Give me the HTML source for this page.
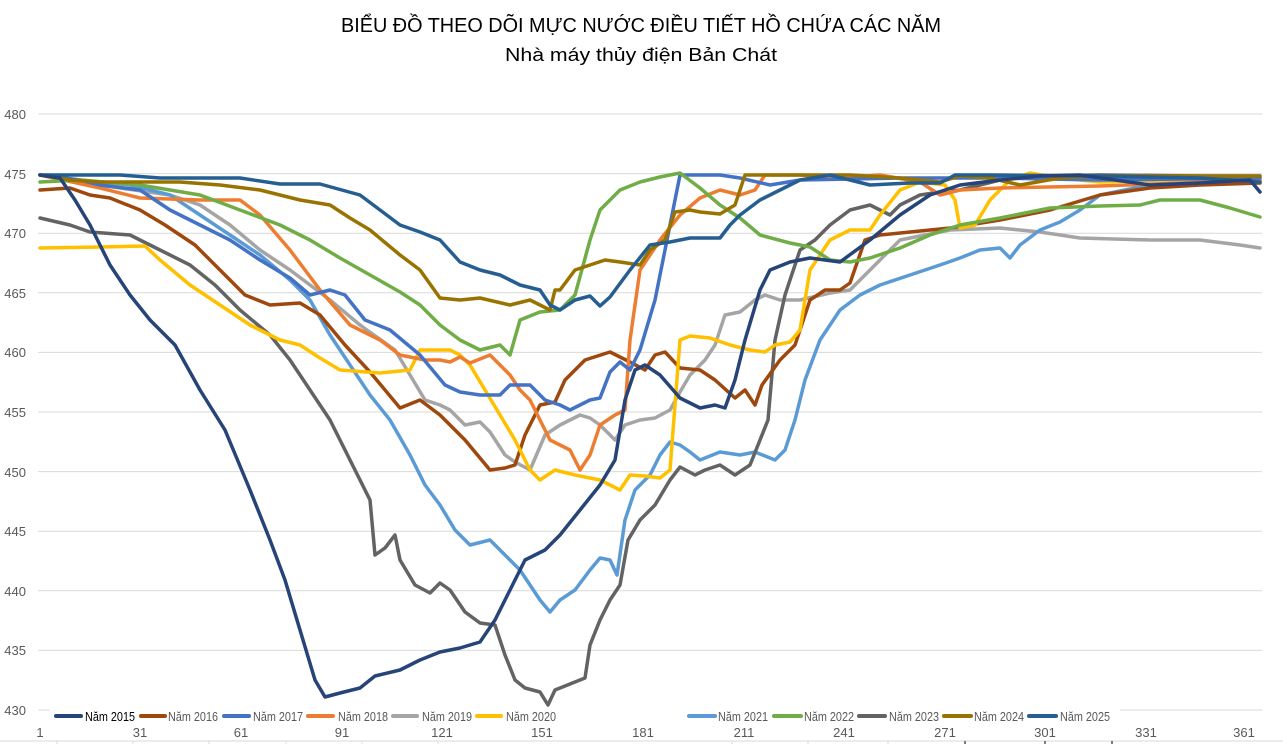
<!DOCTYPE html>
<html><head><meta charset="utf-8"><style>
body{margin:0;background:#fff;}
svg{display:block;font-family:"Liberation Sans",sans-serif;}
.s{fill:none;stroke-width:3.5;stroke-linejoin:round;stroke-linecap:round;}
</style></head><body>
<svg width="1283" height="744" viewBox="0 0 1283 744">
<text x="641" y="32" text-anchor="middle" font-size="20" fill="#000" textLength="600" lengthAdjust="spacingAndGlyphs">BIỂU ĐỒ THEO DÕI MỰC NƯỚC ĐIỀU TIẾT HỒ CHỨA CÁC NĂM</text>
<text x="641" y="61" text-anchor="middle" font-size="18" fill="#000" textLength="272" lengthAdjust="spacingAndGlyphs">Nhà máy thủy điện Bản Chát</text>
<g stroke="#d9d9d9" stroke-width="1">
<line x1="38" x2="1262" y1="114" y2="114"/><line x1="38" x2="1262" y1="173.6" y2="173.6"/><line x1="38" x2="1262" y1="233.2" y2="233.2"/><line x1="38" x2="1262" y1="292.8" y2="292.8"/><line x1="38" x2="1262" y1="352.4" y2="352.4"/><line x1="38" x2="1262" y1="412" y2="412"/><line x1="38" x2="1262" y1="471.6" y2="471.6"/><line x1="38" x2="1262" y1="531.2" y2="531.2"/><line x1="38" x2="1262" y1="590.8" y2="590.8"/><line x1="38" x2="1262" y1="650.4" y2="650.4"/><line x1="38" x2="1262" y1="710" y2="710"/>
<line x1="0" x2="1283" y1="741" y2="741"/>
<line x1="57" x2="57" y1="741" y2="744"/><line x1="133" x2="133" y1="741" y2="744"/><line x1="209" x2="209" y1="741" y2="744"/><line x1="286" x2="286" y1="741" y2="744"/><line x1="362" x2="362" y1="741" y2="744"/><line x1="438" x2="438" y1="741" y2="744"/><line x1="732" x2="732" y1="741" y2="744"/><line x1="808" x2="808" y1="741" y2="744"/><line x1="888" x2="888" y1="741" y2="744"/>
</g>
<g stroke="#000" stroke-width="1"><line x1="965" x2="965" y1="741" y2="744"/><line x1="1045" x2="1045" y1="741" y2="744"/><line x1="1112" x2="1112" y1="741" y2="744"/></g>
<g font-size="13" fill="#595959" text-anchor="end">
<text x="26" y="119">480</text><text x="26" y="179">475</text><text x="26" y="238">470</text><text x="26" y="298">465</text><text x="26" y="357">460</text><text x="26" y="417">455</text><text x="26" y="477">450</text><text x="26" y="536">445</text><text x="26" y="596">440</text><text x="26" y="655">435</text><text x="26" y="715">430</text>
</g>
<g font-size="13" fill="#595959" text-anchor="middle">
<text x="40" y="737">1</text><text x="140" y="737">31</text><text x="241" y="737">61</text><text x="342" y="737">91</text><text x="442" y="737">121</text><text x="542" y="737">151</text><text x="643" y="737">181</text><text x="744" y="737">211</text><text x="844" y="737">241</text><text x="945" y="737">271</text><text x="1045" y="737">301</text><text x="1146" y="737">331</text><text x="1244" y="737">361</text>
</g>
<polyline class="s" stroke="#A5A5A5" points="40,175 80,182 120,188 170,195 200,205 230,225 260,250 290,270 330,300 360,325 395,350 410,375 425,400 440,405 450,410 465,425 480,422 490,432 505,455 515,462 530,470 545,435 560,425 570,420 580,415 590,418 600,425 615,440 625,425 640,420 655,418 670,410 680,392 690,375 705,360 715,345 725,315 740,312 755,300 765,295 780,300 800,300 830,293 850,290 870,270 900,240 950,230 1000,228 1040,232 1080,238 1150,240 1200,240 1240,245 1260,248"/>
<polyline class="s" stroke="#5B9BD5" points="40,175 80,180 130,185 170,195 200,215 230,235 260,255 290,280 310,300 330,335 350,365 370,395 390,420 410,455 425,485 440,505 455,530 470,545 490,540 500,550 520,570 540,600 550,612 560,600 575,590 590,570 600,558 610,560 617,575 625,520 635,490 650,475 660,455 670,442 680,445 690,452 700,460 720,452 740,455 755,452 775,460 785,450 795,420 805,380 820,340 840,310 860,295 880,285 910,275 940,265 960,258 980,250 1000,248 1010,258 1020,245 1040,230 1060,222 1080,210 1100,195 1150,185 1200,182 1260,182"/>
<polyline class="s" stroke="#636363" points="40,218 70,225 90,232 130,235 160,250 190,265 215,285 240,310 270,335 290,360 310,390 330,420 350,460 370,500 375,555 385,548 395,535 400,560 415,585 430,593 440,583 450,590 465,612 480,623 495,625 505,655 515,680 525,688 540,692 548,705 555,690 570,684 585,678 590,645 600,620 610,600 620,585 628,540 640,520 655,505 670,480 680,467 695,475 705,470 720,465 735,475 750,465 760,440 768,420 775,340 785,295 800,250 815,240 830,225 850,210 870,205 890,215 900,205 920,195 940,192 960,190 1000,180 1040,176 1100,175 1200,176 1260,176"/>
<polyline class="s" stroke="#9E480E" points="40,190 70,188 90,195 110,198 140,210 165,225 195,245 220,270 245,295 270,305 300,303 320,315 345,345 370,372 400,408 420,400 440,415 465,440 490,470 505,468 515,465 525,435 540,405 555,402 565,380 585,360 610,352 630,362 645,370 655,355 665,352 680,368 700,370 715,380 735,398 745,390 755,405 762,385 780,360 795,345 810,300 825,290 840,290 850,283 865,240 880,235 950,228 1000,220 1050,210 1100,195 1150,188 1200,185 1260,183"/>
<polyline class="s" stroke="#FFC000" points="40,248 100,247 145,246 160,260 190,285 220,305 250,325 280,340 300,345 320,358 340,370 380,373 410,370 420,350 430,350 450,350 460,355 470,365 485,390 500,415 515,440 530,470 540,480 555,470 575,475 600,480 620,490 630,475 645,476 660,478 670,470 680,340 690,336 710,338 730,345 750,350 765,352 775,345 790,342 800,330 810,270 830,240 850,230 870,230 880,215 900,190 920,182 945,185 955,200 960,228 975,225 990,200 1010,180 1030,173 1060,178 1100,182 1260,177"/>
<polyline class="s" stroke="#ED7D31" points="40,175 100,188 140,198 200,200 240,200 260,215 290,250 320,290 350,325 380,340 400,355 425,360 440,360 450,362 460,357 470,363 490,355 510,375 520,390 530,400 550,440 560,445 570,450 580,470 590,455 600,425 615,415 625,410 630,340 640,270 660,240 680,215 700,198 720,190 740,195 755,190 765,175 800,175 840,178 880,175 920,182 940,195 960,190 1000,188 1100,186 1260,180"/>
<polyline class="s" stroke="#4472C4" points="40,175 80,180 100,185 140,190 170,210 200,225 230,240 260,260 290,278 310,295 330,290 345,295 365,320 390,330 420,355 445,385 460,392 480,395 500,395 510,385 530,385 545,400 560,405 570,410 590,400 600,398 610,372 620,362 630,370 640,350 655,300 665,250 680,175 720,175 740,178 770,185 800,180 900,178 1000,178 1100,180 1260,178"/>
<polyline class="s" stroke="#70AD47" points="40,182 80,180 140,185 200,195 240,210 280,225 310,240 340,258 370,275 400,292 420,305 440,325 460,340 480,350 500,345 510,355 520,320 540,312 560,310 575,295 590,240 600,210 620,190 640,182 660,177 680,173 700,188 720,205 740,218 760,235 790,243 810,247 830,260 850,262 870,258 900,248 930,235 960,225 1000,218 1050,208 1100,206 1140,205 1160,200 1200,200 1230,208 1260,217"/>
<polyline class="s" stroke="#997300" points="40,175 70,180 100,182 140,182 180,182 220,185 260,190 300,200 330,205 350,218 370,230 400,255 420,270 440,298 460,300 480,298 510,305 530,300 550,310 555,290 560,290 575,270 590,265 605,260 620,262 640,265 650,250 665,240 675,212 690,210 700,212 720,214 735,205 745,175 800,175 850,175 900,178 940,182 960,176 990,178 1020,185 1060,178 1100,176 1260,176"/>
<polyline class="s" stroke="#255E91" points="40,175 80,175 120,175 160,178 200,178 240,178 280,184 320,184 360,195 400,225 420,232 440,240 460,262 480,270 500,275 520,285 540,290 550,305 560,310 575,300 590,296 600,306 610,297 630,270 650,245 670,242 690,238 720,238 730,225 740,215 760,200 780,190 800,180 830,175 870,185 910,183 940,183 955,175 990,175 1100,176 1200,178 1260,182"/>
<polyline class="s" stroke="#264478" points="40,175 60,178 75,200 90,225 110,265 130,295 150,320 175,345 200,390 225,430 250,490 270,540 285,580 300,630 315,680 325,697 340,693 360,688 375,676 400,670 420,660 440,652 460,648 480,642 495,620 510,590 525,560 545,550 560,535 580,510 600,485 615,460 625,400 635,370 645,365 660,375 680,398 700,408 715,405 725,408 735,380 745,340 760,290 770,270 790,262 810,258 840,262 870,240 900,215 930,195 960,185 1000,180 1040,176 1080,175 1150,185 1200,183 1250,180 1260,192"/>
<rect x="50" y="707" width="1070" height="18" fill="#fff"/>
<g stroke-width="4" stroke-linecap="round">
<line x1="56" x2="81" y1="716" y2="716" stroke="#264478"/>
<line x1="141" x2="165" y1="716" y2="716" stroke="#9E480E"/>
<line x1="224" x2="249" y1="716" y2="716" stroke="#4472C4"/>
<line x1="308" x2="333" y1="716" y2="716" stroke="#ED7D31"/>
<line x1="393" x2="417" y1="716" y2="716" stroke="#A5A5A5"/>
<line x1="477" x2="501" y1="716" y2="716" stroke="#FFC000"/>
<line x1="689" x2="715" y1="716" y2="716" stroke="#5B9BD5"/>
<line x1="774" x2="801" y1="716" y2="716" stroke="#70AD47"/>
<line x1="859" x2="885" y1="716" y2="716" stroke="#636363"/>
<line x1="944" x2="971" y1="716" y2="716" stroke="#997300"/>
<line x1="1029" x2="1056" y1="716" y2="716" stroke="#255E91"/>
</g>
<g font-size="13" fill="#595959">
<text x="85" y="721" fill="#000" textLength="50" lengthAdjust="spacingAndGlyphs">Năm 2015</text><text x="168" y="721" textLength="50" lengthAdjust="spacingAndGlyphs">Năm 2016</text><text x="253" y="721" textLength="50" lengthAdjust="spacingAndGlyphs">Năm 2017</text><text x="338" y="721" textLength="50" lengthAdjust="spacingAndGlyphs">Năm 2018</text><text x="422" y="721" textLength="50" lengthAdjust="spacingAndGlyphs">Năm 2019</text><text x="506" y="721" textLength="50" lengthAdjust="spacingAndGlyphs">Năm 2020</text><text x="718" y="721" textLength="50" lengthAdjust="spacingAndGlyphs">Năm 2021</text><text x="804" y="721" textLength="50" lengthAdjust="spacingAndGlyphs">Năm 2022</text><text x="889" y="721" textLength="50" lengthAdjust="spacingAndGlyphs">Năm 2023</text><text x="974" y="721" textLength="50" lengthAdjust="spacingAndGlyphs">Năm 2024</text><text x="1060" y="721" textLength="50" lengthAdjust="spacingAndGlyphs">Năm 2025</text>
</g>
</svg>
</body></html>
